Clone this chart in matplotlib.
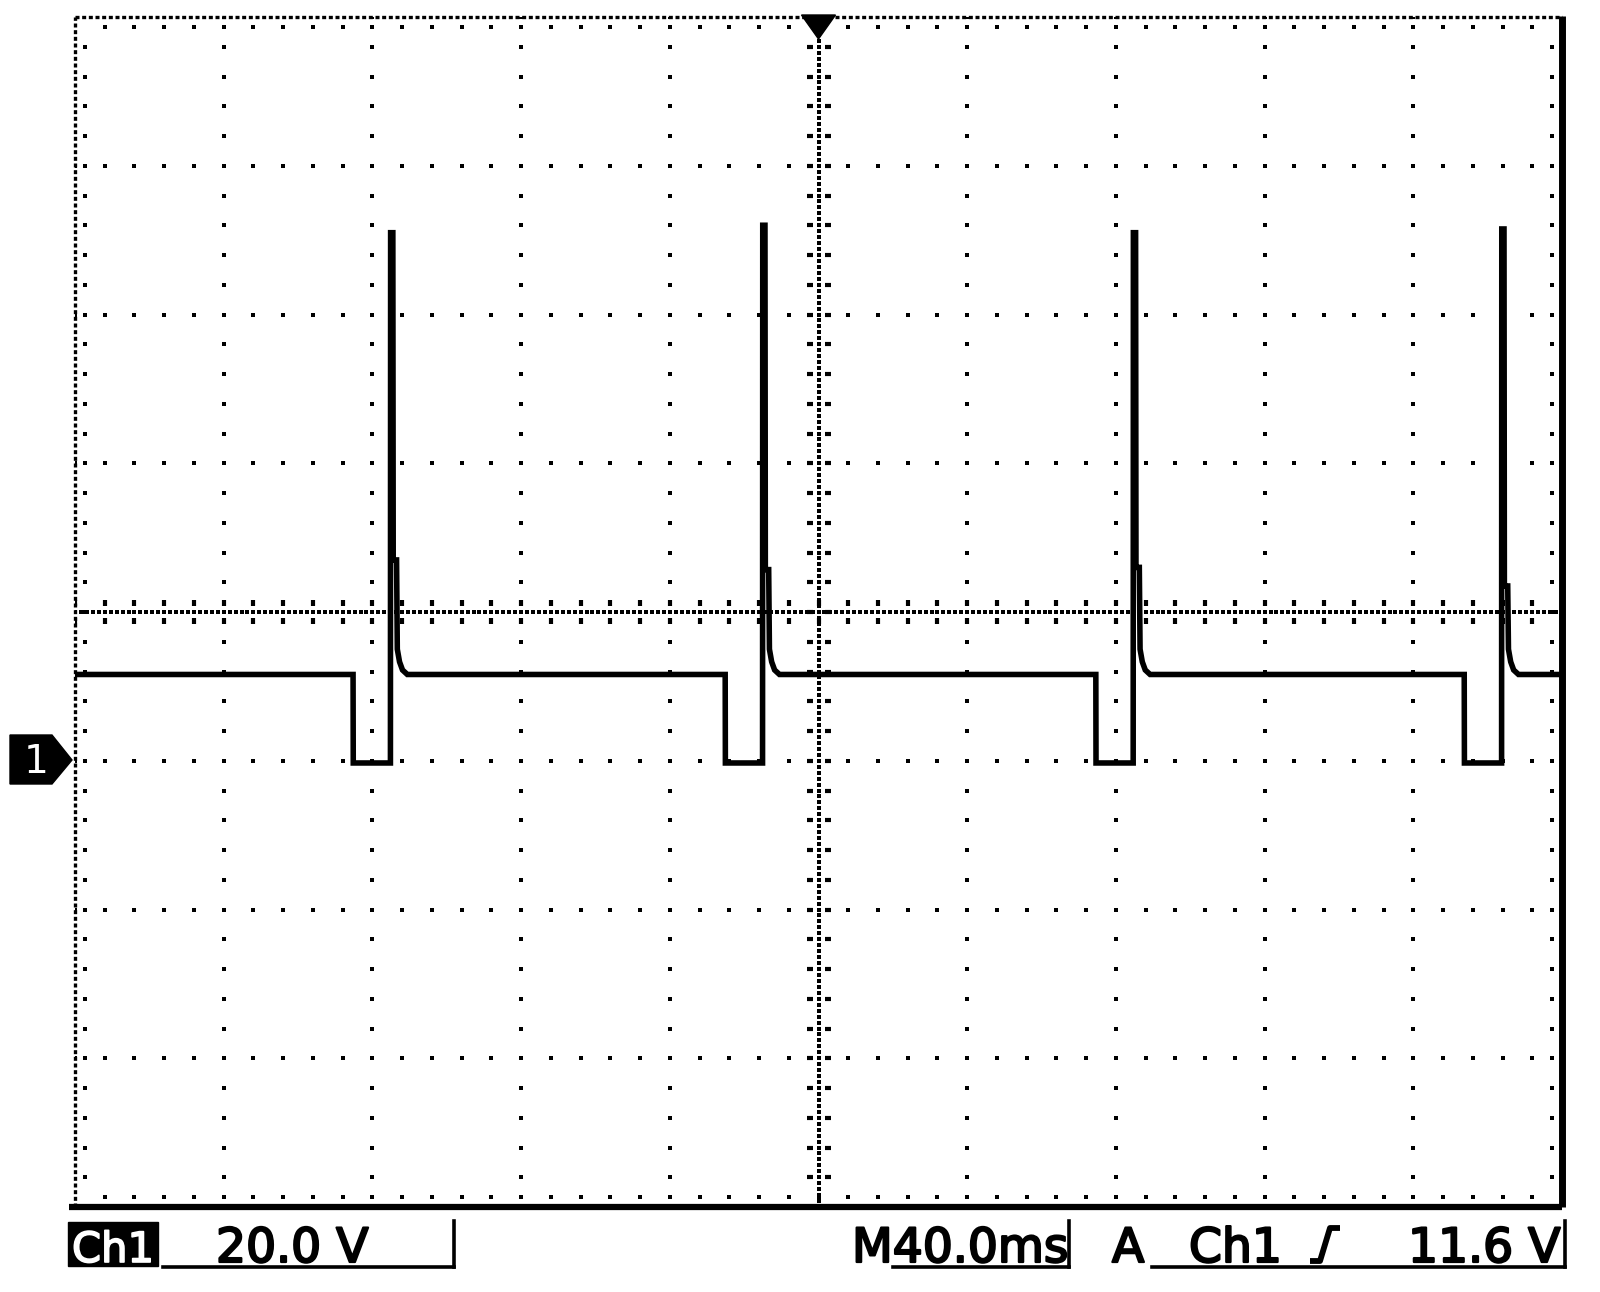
import numpy as np
import matplotlib.pyplot as plt
import matplotlib.patheffects as pe
from matplotlib.lines import Line2D
from matplotlib.patches import Polygon, Rectangle

# scope settings
TIME_DIV = 40.0     # ms / div
VOLT_DIV = 20.0     # V / div
N_XDIV = 10
N_YDIV = 8
GROUND_DIV = 3      # ground marker sits 3 div above the bottom edge

# trace data
baseline_v = 11.6
dip_v = -0.3
pulse_starts = [74.8, 174.9, 274.6, 373.7]     # ms, start of each dip
pulse_peaks = [71.0, 72.0, 71.0, 71.5]         # V
pulse_steps = [27.0, 25.7, 26.0, 23.5]         # V, short shelf after the spike
shape_t = [0.0, 0.05, 10.05, 10.1, 10.7, 10.8, 11.7, 11.9, 12.5, 13.3, 14.6]  # ms from dip start
decay_v = [15.0, 13.3, 12.2]

status_left = ["Ch1", "20.0 V"]
status_right = ["M40.0ms", "A", "Ch1", "11.6 V"]

W, H = 1600, 1292
fig = plt.figure(figsize=(W / 100, H / 100), dpi=100)
fig.patch.set_facecolor("white")

# plot area in pixel coords
L, R, T, B = 75, 1562, 17, 1207
ax = fig.add_axes([L / W, 1 - B / H, (R - L) / W, (B - T) / H])
x0, x1 = 0.0, N_XDIV * TIME_DIV
y0, y1 = -GROUND_DIV * VOLT_DIV, (N_YDIV - GROUND_DIV) * VOLT_DIV
ax.set_xlim(x0, x1)
ax.set_ylim(y0, y1)
ax.axis("off")

def fx(x):
    return x / W

def fy(y):
    return 1 - y / H

px_x = TIME_DIV / ((R - L) / N_XDIV)   # ms per pixel
px_y = VOLT_DIV / ((B - T) / N_YDIV)   # V per pixel

# ---- graticule ----
xs_major = x0 + TIME_DIV * np.arange(N_XDIV + 1)
ys_major = y0 + VOLT_DIV * np.arange(N_YDIV + 1)
xs_minor = np.arange(x0, x1 + 1e-6, TIME_DIV / 5)
ys_minor = np.arange(y0, y1 + 1e-6, VOLT_DIV / 5)
xc = x0 + TIME_DIV * N_XDIV / 2
yc = y0 + VOLT_DIV * N_YDIV / 2

dot = dict(ls="none", marker="s", ms=2.6, color="black", mew=0, zorder=1)
for xv in xs_major[1:-1]:
    if np.isclose(xv, xc):
        continue
    ax.plot(np.full_like(ys_minor, xv), ys_minor, **dot)
for yv in ys_major[1:-1]:
    if np.isclose(yv, yc):
        continue
    ax.plot(xs_minor, np.full_like(xs_minor, yv), **dot)

# centre lines: dense dots + broken minor ticks
dense_y = np.arange(y0, y1 + 1e-6, VOLT_DIV / 25)
dense_x = np.arange(x0, x1 + 1e-6, TIME_DIV / 25)
ax.plot(np.full_like(dense_y, xc), dense_y, ls="none", marker="s", ms=2.5, mew=0, color="black", zorder=1)
ax.plot(dense_x, np.full_like(dense_x, yc), ls="none", marker="s", ms=2.5, mew=0, color="black", zorder=1)
ax.plot(np.full_like(ys_minor, xc), ys_minor, ls="none", marker="s", ms=3.4, mew=0, color="black", zorder=1)
ax.plot(xs_minor, np.full_like(xs_minor, yc), ls="none", marker="s", ms=3.4, mew=0, color="black", zorder=1)
for side in (-1, 1):
    ax.plot(np.full_like(ys_minor, xc + side * 9 * px_x), ys_minor,
            ls="none", marker="_", ms=4.5, mew=3.0, color="black", zorder=1)
    ax.plot(xs_minor, np.full_like(xs_minor, yc + side * 9 * px_y),
            ls="none", marker="|", ms=4.5, mew=3.0, color="black", zorder=1)

# edge ticks just inside the border
off_x = 10 * px_x
off_y = 10 * px_y
ax.plot(xs_minor[1:-1], np.full(len(xs_minor) - 2, y1 - off_y), **dot)
ax.plot(xs_minor[1:-1], np.full(len(xs_minor) - 2, y0 + off_y), **dot)
ax.plot(np.full(len(ys_minor) - 2, x0 + off_x), ys_minor[1:-1], **dot)
ax.plot(np.full(len(ys_minor) - 2, x1 - off_x), ys_minor[1:-1], **dot)

# border: top / left dotted, right / bottom solid
ax.plot([x0, x1], [y1, y1], color="black", lw=2.4, ls=(0, (1.2, 0.8)), clip_on=False, zorder=2)
ax.plot([x0, x0], [y0, y1], color="black", lw=2.4, ls=(0, (1.2, 0.8)), clip_on=False, zorder=2)
ax.plot([x1, x1], [y0, y1 + 1.5 * px_y], color="black", lw=5.0, clip_on=False, zorder=2,
        solid_capstyle="butt")
ax.plot([x0 - 6 * px_x, x1], [y0, y0], color="black", lw=4.5, clip_on=False, zorder=2,
        solid_capstyle="butt")

# ---- trace ----
t_trace = [x0]
v_trace = [baseline_v]
for t0, pk, st in zip(pulse_starts, pulse_peaks, pulse_steps):
    levels = [baseline_v, dip_v, dip_v, pk, pk, st, st] + decay_v + [baseline_v]
    t_trace += [t0 + o for o in shape_t]
    v_trace += levels
t_trace.append(x1)
v_trace.append(baseline_v)
ax.plot(t_trace, v_trace, color="black", lw=4.0, solid_joinstyle="miter", zorder=3)

# trigger position marker (top centre)
xm = L + (R - L) / 2
fig.patches.append(Polygon([(fx(xm - 17), fy(15)), (fx(xm + 17), fy(15)), (fx(xm), fy(39))],
                           closed=True, transform=fig.transFigure, color="black"))

# channel 1 ground marker
fig.patches.append(Polygon([(fx(10), fy(735)), (fx(52), fy(735)), (fx(72), fy(760)),
                            (fx(52), fy(784)), (fx(10), fy(784))],
                           closed=True, transform=fig.transFigure, color="black"))
fig.text(fx(36), fy(773), "1", color="white", fontsize=28, ha="center", va="baseline",
         family="DejaVu Sans")

# ---- status bar ----
fx_bold = [pe.withStroke(linewidth=1.6, foreground="black")]
base_y = 1262
fig.patches.append(Rectangle((fx(68), fy(1266)), fx(158) - fx(68), fy(1222) - fy(1266),
                             transform=fig.transFigure, color="black"))
fig.text(fx(113), fy(base_y), status_left[0], color="white", fontsize=30, ha="center", va="baseline",
         path_effects=[pe.withStroke(linewidth=1.2, foreground="white")])
fig.text(fx(216), fy(base_y), status_left[1], color="black", fontsize=34, ha="left", va="baseline",
         path_effects=fx_bold)
fig.text(fx(852), fy(base_y), status_right[0], color="black", fontsize=34, ha="left", va="baseline",
         path_effects=fx_bold)
fig.text(fx(1112), fy(base_y), status_right[1], color="black", fontsize=34, ha="left", va="baseline",
         path_effects=fx_bold)
fig.text(fx(1189), fy(base_y), status_right[2], color="black", fontsize=34, ha="left", va="baseline",
         path_effects=fx_bold)
fig.text(fx(1408), fy(base_y), status_right[3], color="black", fontsize=34, ha="left", va="baseline",
         path_effects=fx_bold)

# rising-edge slope symbol
fig.lines.append(Line2D([fx(1310), fx(1320), fx(1330), fx(1340)],
                        [fy(1261), fy(1261), fy(1228), fy(1228)],
                        transform=fig.transFigure, color="black", lw=4.2, solid_capstyle="butt"))

# box outlines under the readouts
box_lw = 2.6
for xa, xb in [(163, 454), (893, 1069), (1152, 1565)]:
    fig.lines.append(Line2D([fx(xa), fx(xb)], [fy(1267), fy(1267)], transform=fig.transFigure,
                            color="black", lw=box_lw))
    fig.lines.append(Line2D([fx(xb), fx(xb)], [fy(1221), fy(1267)], transform=fig.transFigure,
                            color="black", lw=box_lw))

fig.savefig("out.png", dpi=100, facecolor="white")
